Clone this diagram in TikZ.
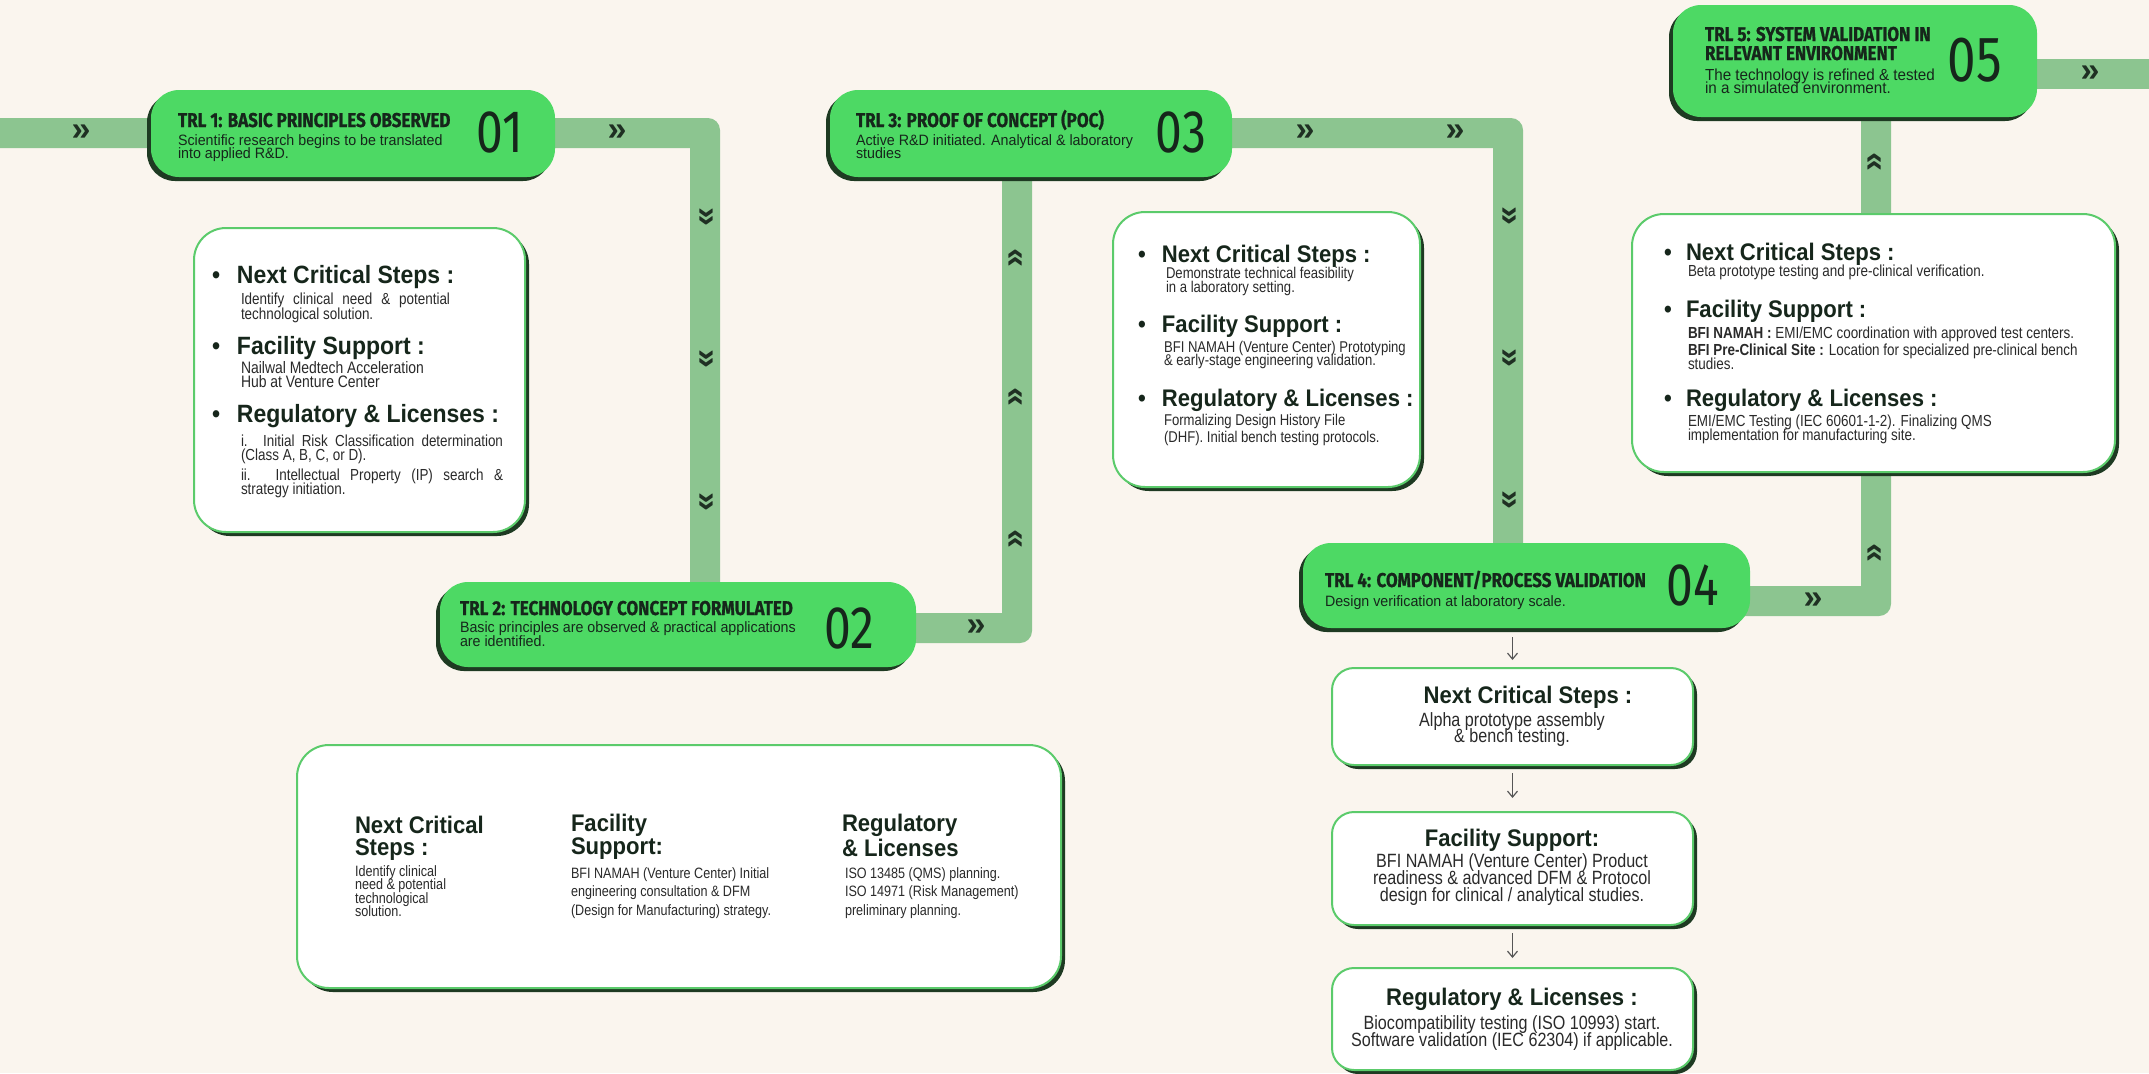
\documentclass[tikz,border=0pt]{standalone}
\usepackage{fontspec}
\setmainfont{Liberation Sans}
\newfontfamily\titlefont[FakeStretch=0.85,FakeBold=0.8]{Fira Sans}
\newfontfamily\numfont[FakeStretch=0.8]{Fira Sans}
\newfontfamily\headfont[FakeStretch=0.92]{Liberation Sans}
\newfontfamily\descfont[FakeStretch=0.95]{Liberation Sans}
\newfontfamily\bodyfont[FakeStretch=0.84]{Liberation Sans}
\usetikzlibrary{shadows,arrows.meta}

\definecolor{paper}{HTML}{FAF5EE}
\definecolor{track}{HTML}{8CC590}
\definecolor{leaf}{HTML}{4DD964}
\definecolor{rim}{HTML}{1E3A22}
\definecolor{edge}{HTML}{5BCB6B}
\definecolor{ink}{HTML}{16261B}
\definecolor{bodyink}{HTML}{2A2A2A}
\definecolor{chevink}{HTML}{1F3023}
\definecolor{flowink}{HTML}{555555}

\newcommand\trltitle{\titlefont\bfseries\fontsize{10}{10}\selectfont\color{ink}}
\newcommand\trldesc[1]{\descfont\fontsize{7.5}{#1}\selectfont\color{ink}}
\newcommand\trlnum{\numfont\fontsize{30}{30}\selectfont\color{ink}}
\newcommand\cardhead[1]{\headfont\bfseries\fontsize{#1}{#1}\selectfont\color{ink}}
\newcommand\cardbody[2]{\bodyfont\fontsize{#1}{#2}\selectfont\color{bodyink}}
\newcommand\chevfont{\bfseries\fontsize{17}{17}\selectfont}
\newcommand\txtblock[2]{\parbox[t]{#1}{\lineskiplimit=-100pt\relax #2}}
\newcommand\ctrblock[2]{\parbox[t]{#1}{\lineskiplimit=-100pt\relax\centering #2}}

\begin{document}
\begin{tikzpicture}[x=0.5pt,y=-0.5pt,
  every node/.style={inner sep=0pt, outer sep=0pt},
  hdr/.style={rectangle, rounded corners=14pt, fill=leaf,
    drop shadow={shadow xshift=-2pt, shadow yshift=-2pt, fill=rim, opacity=1}},
  card/.style={rectangle, rounded corners=16pt, fill=white, draw=edge, line width=1pt,
    drop shadow={shadow xshift=2pt, shadow yshift=-2pt, fill=rim, opacity=1}},
  minicard/.style={card, rounded corners=11pt},
  band/.style={fill=track},
  chevright/.style={text=chevink, font=\chevfont},
  chevdown/.style={chevright, rotate=-90},
  chevup/.style={chevright, rotate=90},
  flow/.style={draw=flowink, line width=0.6pt, -{Straight Barb[length=3pt,width=5pt]}},
]
\useasboundingbox (0,0) rectangle (2149,1073);
\clip (0,0) rectangle (2149,1073);
\fill[paper] (0,0) rectangle (2149,1073);

% ---- the track that links the stages ----
\fill[band] (-5,118) -- (708,118) arc[start angle=-90,end angle=0,radius=12]
  -- (720,600) -- (690,600) -- (690,148) -- (-5,148) -- cycle;
\fill[band] (880,613) -- (1002,613) -- (1002,160) -- (1032,160) -- (1032,631)
  arc[start angle=0,end angle=90,radius=12] -- (880,643) -- cycle;
\fill[band] (1200,118) -- (1511,118) arc[start angle=-90,end angle=0,radius=12]
  -- (1523,560) -- (1493,560) -- (1493,148) -- (1200,148) -- cycle;
\fill[band] (1720,586) -- (1861,586) -- (1861,100) -- (1891,100) -- (1891,604)
  arc[start angle=0,end angle=90,radius=12] -- (1720,616) -- cycle;
\fill[band] (2000,59) rectangle (2155,89);

% ---- chevrons on the track ----
\node[chevright] (cr1) at (81,133) {»};
\node[chevright] (cr2) at (617,133) {»};
\node[chevright] (cr3) at (976,628) {»};
\node[chevright] (cr4) at (1305,133) {»};
\node[chevright] (cr5) at (1455,133) {»};
\node[chevright] (cr6) at (1813,601) {»};
\node[chevright] (cr7) at (2090,74) {»};
\node[chevdown] (cd1) at (705,217) {»};
\node[chevdown] (cd2) at (705,359) {»};
\node[chevdown] (cd3) at (705,502) {»};
\node[chevdown] (cd4) at (1508,216) {»};
\node[chevdown] (cd5) at (1508,358) {»};
\node[chevdown] (cd6) at (1508,500) {»};
\node[chevup] (cu1) at (1017,258) {»};
\node[chevup] (cu2) at (1017,397) {»};
\node[chevup] (cu3) at (1017,539) {»};
\node[chevup] (cu4) at (1876,162) {»};
\node[chevup] (cu5) at (1876,553) {»};

% ---- detail cards ----
\node[card, minimum width=165.5pt, minimum height=152pt] (box1) at (359.5,380) {};
\node[card, minimum width=153.5pt, minimum height=137.5pt] (box3) at (1266.5,349.5) {};
\node[card, minimum width=241.5pt, minimum height=129pt] (box5) at (1873.5,343) {};
\node[card, minimum width=382pt, minimum height=121.5pt] (box2) at (679,866.5) {};
\node[minicard, minimum width=180.5pt, minimum height=48.5pt] (ncs4) at (1512.5,716.5) {};
\node[minicard, minimum width=180.5pt, minimum height=56.5pt] (fac4) at (1512.5,868.5) {};
\node[minicard, minimum width=180.5pt, minimum height=51pt] (reg4) at (1512.5,1019) {};

% ---- stage headers ----
\node[hdr, minimum width=202pt, minimum height=43.5pt] (trl1) at (353,133.5) {};
\node[hdr, minimum width=238pt, minimum height=42.5pt] (trl2) at (678,624.5) {};
\node[hdr, minimum width=201pt, minimum height=43.5pt] (trl3) at (1031,133.5) {};
\node[hdr, minimum width=223.5pt, minimum height=42.5pt] (trl4) at (1526.5,585.5) {};
\node[hdr, minimum width=182pt, minimum height=56pt] (trl5) at (1855,61) {};

% ---- TRL 4 flow arrows ----
\draw[flow, shorten <=4.5pt, shorten >=4pt] (trl4.south -| ncs4.north) -- (ncs4.north);
\draw[flow, shorten <=4pt, shorten >=7pt] (ncs4.south) -- (fac4.north);
\draw[flow, shorten <=4pt, shorten >=5pt] (fac4.south) -- (reg4.north);

% ---- header texts ----
\node[anchor=base west] (trl1t) at (178,127) {\trltitle TRL 1: BASIC PRINCIPLES OBSERVED};
\node[anchor=base west] (trl1d) at (178,145) {\trldesc{6.5}\txtblock{160pt}{Scientific research begins to be translated\\into applied R\&D.}};
\node (trl1n) at (500,132) {\trlnum 01};

\node[anchor=base west] (trl2t) at (460,615) {\trltitle TRL 2: TECHNOLOGY CONCEPT FORMULATED};
\node[anchor=base west] (trl2d) at (460,632) {\trldesc{7}\txtblock{190pt}{Basic principles are observed \& practical applications\\are identified.}};
\node (trl2n) at (849,628) {\trlnum 02};

\node[anchor=base west] (trl3t) at (856,127) {\trltitle TRL 3: PROOF OF CONCEPT (POC)};
\node[anchor=base west] (trl3d) at (856,145) {\trldesc{6.5}\txtblock{160pt}{Active R\&D initiated. Analytical \& laboratory\\studies}};
\node (trl3n) at (1181,132.5) {\trlnum 03};

\node[anchor=base west] (trl4t) at (1325,587) {\trltitle TRL 4: COMPONENT/PROCESS VALIDATION};
\node[anchor=base west] (trl4d) at (1325,606) {\trldesc{7}Design verification at laboratory scale.};
\node (trl4n) at (1693,585) {\trlnum 04};

\node[anchor=base west] (trl5t) at (1705,41) {\trltitle\txtblock{130pt}{\baselineskip=9.5pt TRL 5: SYSTEM VALIDATION IN\\RELEVANT ENVIRONMENT}};
\node[anchor=base west] (trl5d) at (1705,80) {\descfont\fontsize{8}{6.5}\selectfont\color{ink}\txtblock{130pt}{The technology is refined \& tested\\in a simulated environment.}};
\node (trl5n) at (1975,60) {\numfont\fontsize{32}{32}\selectfont\color{ink}05};

% ---- card for TRL 1 ----
\node[anchor=base west] (b1h1) at (212,283) {\cardhead{12.5}\makebox[12.5pt][l]{\textbullet}Next Critical Steps :};
\node[anchor=base west] (b1t1) at (241,304) {\cardbody{8}{7.5}\txtblock{104.5pt}{Identify clinical need \& potential\linebreak technological solution.}};
\node[anchor=base west] (b1h2) at (212,354) {\cardhead{12.5}\makebox[12.5pt][l]{\textbullet}Facility Support :};
\node[anchor=base west] (b1t2) at (241,373) {\cardbody{8.3}{7}\txtblock{130pt}{Nailwal Medtech Acceleration\\Hub at Venture Center}};
\node[anchor=base west] (b1h3) at (212,422) {\cardhead{12.5}\makebox[12.5pt][l]{\textbullet}Regulatory \& Licenses :};
\node[anchor=base west] (b1t3) at (241,446) {\cardbody{8}{7}\txtblock{131pt}{i. Initial Risk Classification determination\linebreak (Class A, B, C, or D).}};
\node[anchor=base west] (b1t4) at (241,480) {\cardbody{8}{7}\txtblock{131pt}{ii. Intellectual Property (IP) search \&\linebreak strategy initiation.}};

% ---- card for TRL 3 ----
\node[anchor=base west] (b3h1) at (1138,262) {\cardhead{12}\makebox[12pt][l]{\textbullet}Next Critical Steps :};
\node[anchor=base west] (b3t1) at (1166,278) {\cardbody{7.8}{7}\txtblock{130pt}{Demonstrate technical feasibility\\in a laboratory setting.}};
\node[anchor=base west] (b3h2) at (1138,332) {\cardhead{12}\makebox[12pt][l]{\textbullet}Facility Support :};
\node[anchor=base west] (b3t2) at (1164,352) {\cardbody{7.8}{6.5}\txtblock{130pt}{BFI NAMAH (Venture Center) Prototyping\\\& early-stage engineering validation.}};
\node[anchor=base west] (b3h3) at (1138,406) {\cardhead{12}\makebox[12pt][l]{\textbullet}Regulatory \& Licenses :};
\node[anchor=base west] (b3t3) at (1164,425) {\cardbody{7.8}{8.5}\txtblock{130pt}{Formalizing Design History File\\(DHF). Initial bench testing protocols.}};

% ---- card for TRL 5 ----
\node[anchor=base west] (b5h1) at (1664,260) {\cardhead{12}\makebox[11pt][l]{\textbullet}Next Critical Steps :};
\node[anchor=base west] (b5t1) at (1688,276) {\cardbody{8}{7}Beta prototype testing and pre-clinical verification.};
\node[anchor=base west] (b5h2) at (1664,317) {\cardhead{12}\makebox[11pt][l]{\textbullet}Facility Support :};
\node[anchor=base west] (b5t2) at (1688,338) {\cardbody{8}{7}\textbf{BFI NAMAH :} EMI/EMC coordination with approved test centers.};
\node[anchor=base west] (b5t3) at (1688,355) {\cardbody{8}{7}\txtblock{200pt}{\textbf{BFI Pre-Clinical Site :} Location for specialized pre-clinical bench\\studies.}};
\node[anchor=base west] (b5h3) at (1664,406) {\cardhead{12}\makebox[11pt][l]{\textbullet}Regulatory \& Licenses :};
\node[anchor=base west] (b5t4) at (1688,426) {\cardbody{8}{7}\txtblock{200pt}{EMI/EMC Testing (IEC 60601-1-2). Finalizing QMS\\implementation for manufacturing site.}};

% ---- cards under TRL 4 ----
\node[anchor=base] (n4h) at (1528,703) {\cardhead{12}Next Critical Steps :};
\node[anchor=base] (n4t) at (1512,726) {\cardbody{9.6}{8}\ctrblock{170pt}{Alpha prototype assembly\\\& bench testing.}};
\node[anchor=base] (f4h) at (1512,846) {\cardhead{12}Facility Support:};
\node[anchor=base] (f4t) at (1512,867) {\cardbody{9.6}{8.5}\ctrblock{170pt}{BFI NAMAH (Venture Center) Product\\readiness \& advanced DFM \& Protocol\\design for clinical / analytical studies.}};
\node[anchor=base] (r4h) at (1512,1005) {\cardhead{12}Regulatory \& Licenses :};
\node[anchor=base] (r4t) at (1512,1029) {\cardbody{9.6}{8.5}\ctrblock{175pt}{Biocompatibility testing (ISO 10993) start.\\Software validation (IEC 62304) if applicable.}};

% ---- TRL 2 card ----
\node[anchor=base west] (c1h) at (355,833) {\cardhead{12}\txtblock{80pt}{\baselineskip=11pt Next Critical\\Steps :}};
\node[anchor=base west] (c1t) at (355,876) {\cardbody{7.5}{6.8}\txtblock{80pt}{Identify clinical\\need \& potential\\technological\\solution.}};
\node[anchor=base west] (c2h) at (571,831) {\cardhead{12}\txtblock{80pt}{\baselineskip=11.5pt Facility\\Support:}};
\node[anchor=base west] (c2t) at (571,878) {\cardbody{7.5}{9.25}\txtblock{110pt}{BFI NAMAH (Venture Center) Initial\\engineering consultation \& DFM\\(Design for Manufacturing) strategy.}};
\node[anchor=base west] (c3h) at (842,831) {\cardhead{12}\txtblock{80pt}{\baselineskip=12.5pt Regulatory\\\& Licenses}};
\node[anchor=base west] (c3t) at (845,878) {\cardbody{7.5}{9.25}\txtblock{110pt}{ISO 13485 (QMS) planning.\\ISO 14971 (Risk Management)\\preliminary planning.}};
\end{tikzpicture}
\end{document}
